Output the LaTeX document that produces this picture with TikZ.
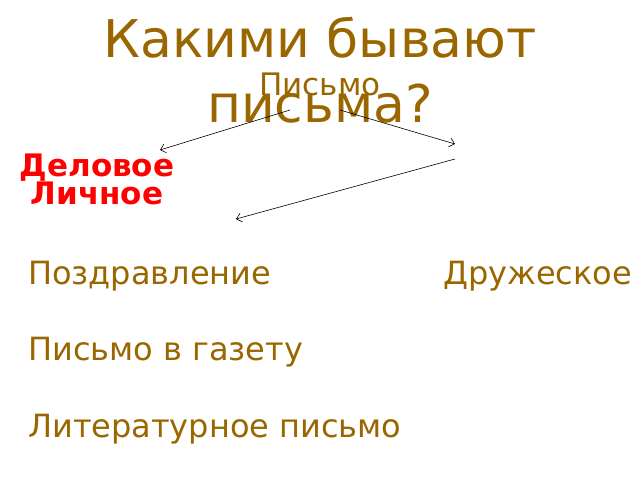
\documentclass[tikz,border=0pt]{standalone}
\usepackage{fontspec}
\setmainfont{DejaVu Sans}
\usetikzlibrary{arrows.meta}
\definecolor{letterbrown}{HTML}{996600}

\begin{document}
\begin{tikzpicture}[x=1pt,y=-1pt,text centered,
    kind/.style={anchor=base west,inner sep=0pt,letterbrown,font=\fontsize{32}{38}\selectfont},
    pointer/.style={-{Straight Barb[length=5pt,width=9pt]},black,line width=0.6pt}]

  \useasboundingbox (0,0) rectangle (640,480);

  \node (TITLE) at (320,122) [anchor=base,inner sep=0pt,align=center,letterbrown,font=\fontsize{52}{65}\selectfont] {Какими бывают\\письма?};
  \node (LETTER) at (320,95) [anchor=base,inner sep=0pt,letterbrown,font=\fontsize{31}{37}\selectfont] {Письмо};

  \node (BUSINESS) at (97,204) [anchor=base,inner sep=0pt,align=center,red,font=\bfseries\fontsize{31}{28}\selectfont] {Деловое\\Личное};

  \node (GREET)  at (28,284)  [kind] {Поздравление};
  \node (FRIEND) at (443,284) [kind] {Дружеское};
  \node (PAPER)  at (28,360)  [kind] {Письмо в газету};
  \node (LITER)  at (28,437)  [kind] {Литературное письмо};

  \coordinate (L0) at (290,110);
  \coordinate (L1) at (160,150);
  \coordinate (R0) at (340,110);
  \coordinate (R1) at (455,144);
  \coordinate (D0) at (455,159);
  \coordinate (D1) at (236,219);

  \draw[pointer] (L0) -- (L1);
  \draw[pointer] (R0) -- (R1);
  \draw[pointer] (D0) -- (D1);

\end{tikzpicture}
\end{document}
